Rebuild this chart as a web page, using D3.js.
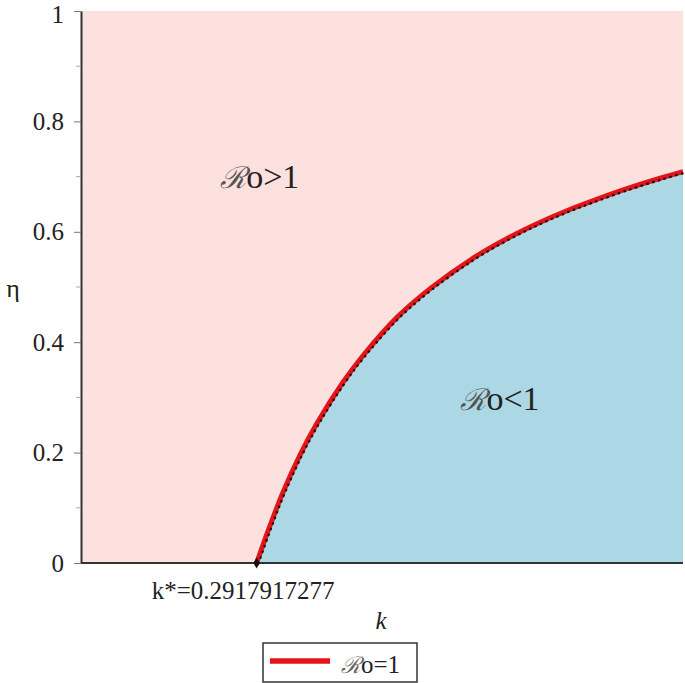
<!DOCTYPE html>
<html>
<head>
<meta charset="utf-8">
<script src="https://cdn.jsdelivr.net/npm/d3@7"></script>
<style>
  body { margin: 0; background: #fff; }
</style>
</head>
<body>
<div id="chart"></div>
<script>
// boundary curve Ro = 1
const kValues   = [0.2918, 0.314,  0.336, 0.364, 0.392, 0.435, 0.468, 0.525, 0.580, 0.651, 0.708, 0.762, 0.809, 0.850, 0.907, 0.962, 1.0];
const etaValues = [0,      0.0675, 0.129, 0.196, 0.253, 0.327, 0.375, 0.445, 0.497, 0.552, 0.588, 0.617, 0.639, 0.656, 0.678, 0.697, 0.709];
const yTicks = [0, 0.2, 0.4, 0.6, 0.8, 1];
const yMinor = [0.1, 0.3, 0.5, 0.7, 0.9];
const kStar = 0.2917917277;
const regionLabels = [
  { text: "o>1", k: 0.297, eta: 0.68 },
  { text: "o<1", k: 0.696, eta: 0.277 }
];

const serif = "'Liberation Serif', 'DejaVu Serif', serif";
const width = 685, height = 683;
const svg = d3.select("#chart").append("svg")
  .attr("width", width)
  .attr("height", height)
  .attr("font-family", serif);

const x = d3.scaleLinear().domain([0, 1]).range([81, 683]);
const y = d3.scaleLinear().domain([0, 1]).range([563, 11]);

const pts = kValues.map((k, i) => ({ k: k, eta: etaValues[i] }));

// pink background
svg.append("rect")
  .attr("x", x(0)).attr("y", y(1))
  .attr("width", x(1) - x(0)).attr("height", y(0) - y(1))
  .attr("fill", "#fde1df");

// blue region below the curve
const area = d3.area()
  .x(d => x(d.k))
  .y0(y(0))
  .y1(d => y(d.eta))
  .curve(d3.curveCatmullRom);
svg.append("path")
  .datum(pts)
  .attr("d", area)
  .attr("fill", "#acd8e5");

// curve
const line = d3.line()
  .x(d => x(d.k))
  .y(d => y(d.eta))
  .curve(d3.curveCatmullRom);
svg.append("path")
  .datum(pts)
  .attr("d", line)
  .attr("fill", "none")
  .attr("stroke", "#e4141a")
  .attr("stroke-width", 5);
svg.append("path")
  .datum(pts)
  .attr("d", line)
  .attr("fill", "none")
  .attr("stroke", "#111")
  .attr("stroke-width", 2.2)
  .attr("stroke-dasharray", "2.5,3.5")
  .attr("transform", "translate(1.5,1.2)");

// y axis
const yAxis = d3.axisLeft(y)
  .tickValues(yTicks)
  .tickFormat(d => d === 0 || d === 1 ? d : d.toFixed(1))
  .tickSize(7)
  .tickSizeOuter(0);
const gy = svg.append("g")
  .attr("transform", `translate(${x(0)},0)`)
  .call(yAxis)
  .attr("font-family", serif)
  .attr("font-size", 25);
gy.select(".domain").attr("stroke", "#333").attr("stroke-width", 2);
gy.selectAll(".tick line").attr("stroke", "#777");
gy.selectAll(".tick text")
  .attr("fill", "#222")
  .attr("x", -17)
  .attr("dy", d => d === 1 ? "0.45em" : "0.32em");
gy.selectAll(".minor")
  .data(yMinor)
  .enter().append("line")
  .attr("x1", -5).attr("x2", 0)
  .attr("y1", d => y(d)).attr("y2", d => y(d))
  .attr("stroke", "#aaa");

// x axis (no ticks)
svg.append("line")
  .attr("x1", x(0)).attr("x2", x(1))
  .attr("y1", y(0)).attr("y2", y(0))
  .attr("stroke", "#333")
  .attr("stroke-width", 2);

// k* marker
svg.append("path")
  .attr("d", d3.symbol(d3.symbolDiamond, 36))
  .attr("transform", `translate(${x(kStar)},${y(0)})`)
  .attr("fill", "#111");
svg.append("text")
  .attr("x", x(kStar) - 105)
  .attr("y", y(0) + 36)
  .attr("font-size", 25)
  .attr("fill", "#222")
  .text("k*=" + kStar);

// axis titles
svg.append("text")
  .attr("x", 381).attr("y", 629)
  .attr("text-anchor", "middle")
  .attr("font-size", 25)
  .attr("font-style", "italic")
  .attr("fill", "#222")
  .text("k");
svg.append("text")
  .attr("x", 13).attr("y", 297)
  .attr("text-anchor", "middle")
  .attr("font-size", 26)
  .attr("fill", "#222")
  .text("η");

// region labels
regionLabels.forEach(r => {
  const t = svg.append("text")
    .attr("x", x(r.k)).attr("y", y(r.eta))
    .attr("text-anchor", "middle")
    .attr("font-size", 34)
    .attr("fill", "#222");
  t.append("tspan")
    .attr("font-family", "'DejaVu Serif', serif")
    .attr("font-style", "italic")
    .attr("font-size", 30)
    .attr("fill", "#555")
    .text("ℛ");
  t.append("tspan").text(r.text);
});

// legend
const lg = svg.append("g").attr("transform", "translate(263,643)");
lg.append("rect")
  .attr("width", 154).attr("height", 39)
  .attr("fill", "#fff")
  .attr("stroke", "#333")
  .attr("stroke-width", 1.5);
lg.append("line")
  .attr("x1", 7).attr("x2", 67)
  .attr("y1", 18).attr("y2", 18)
  .attr("stroke", "#e4141a")
  .attr("stroke-width", 5.5);
const lt = lg.append("text")
  .attr("x", 78).attr("y", 30)
  .attr("font-size", 25)
  .attr("fill", "#222");
lt.append("tspan")
  .attr("font-family", "'DejaVu Serif', serif")
  .attr("font-style", "italic")
  .attr("font-size", 23)
  .attr("fill", "#666")
  .text("ℛ");
lt.append("tspan").text("o=1");
</script>
</body>
</html>
